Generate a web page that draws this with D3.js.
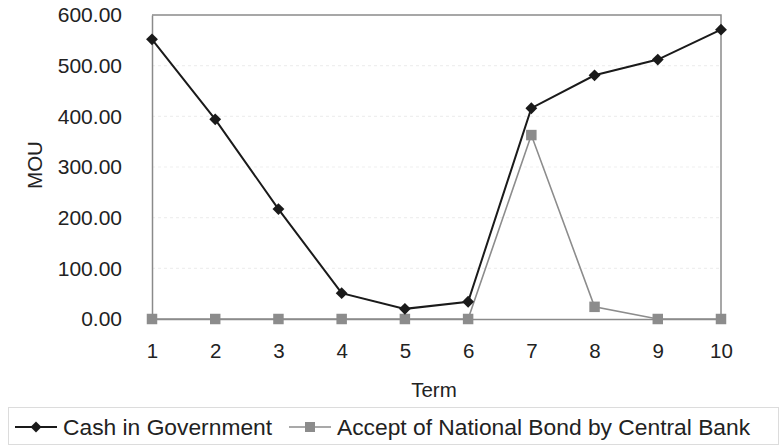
<!DOCTYPE html>
<html>
<head>
<meta charset="utf-8">
<script src="https://cdn.jsdelivr.net/npm/d3@7"></script>
<style>
  html, body { margin: 0; padding: 0; background: #fff; }
  svg { display: block; font-family: "Liberation Sans", Arial, sans-serif; }
</style>
</head>
<body>
<svg id="chart" width="782" height="446"></svg>
<script>
// Terms on the x axis
const terms = [1, 2, 3, 4, 5, 6, 7, 8, 9, 10];
// Series values (MOU)
const cashInGovernment = [552, 394, 217, 51, 20, 34, 416, 481, 512, 571];
const acceptNationalBond = [0, 0, 0, 0, 0, 0, 363, 24, 0, 0];
// Y tick values
const yTicks = [0, 100, 200, 300, 400, 500, 600];
const seriesNames = ["Cash in Government", "Accept of National Bond by Central Bank"];

const svg = d3.select("#chart");
const plot = { left: 152, right: 721, top: 15, bottom: 319 };

const x = d3.scaleLinear().domain([1, 10]).range([plot.left, plot.right]);
const y = d3.scaleLinear().domain([0, 600]).range([plot.bottom, plot.top]);

// faint dotted gridlines
svg.append("g")
  .selectAll("line")
  .data(yTicks.filter(d => d > 0 && d < 600))
  .join("line")
  .attr("x1", plot.left).attr("x2", plot.right)
  .attr("y1", d => y(d)).attr("y2", d => y(d))
  .attr("stroke", "#efefef").attr("stroke-width", 1.2)
  .attr("stroke-dasharray", "3,3");

// plot frame (top and right edges)
svg.append("path")
  .attr("d", `M${plot.left},${plot.top}H${plot.right}V${plot.bottom}`)
  .attr("fill", "none").attr("stroke", "#8a8a8a").attr("stroke-width", 1.5);

// y axis
const yAxis = svg.append("g")
  .attr("transform", `translate(${plot.left},0)`)
  .call(d3.axisLeft(y).tickValues(yTicks).tickFormat(d3.format(".2f")).tickSize(0).tickPadding(30));
yAxis.select(".domain").attr("stroke", "#8a8a8a").attr("stroke-width", 1.5);
yAxis.selectAll("text").attr("font-size", 21).attr("fill", "#222").attr("font-family", "Liberation Sans, Arial, sans-serif");

// x axis
const xAxis = svg.append("g")
  .attr("transform", `translate(0,${plot.bottom})`)
  .call(d3.axisBottom(x).tickValues(terms).tickFormat(d3.format("d")).tickSize(0).tickPadding(24));
xAxis.select(".domain").attr("stroke", "#8a8a8a").attr("stroke-width", 1.5);
xAxis.selectAll("text").attr("font-size", 20.5).attr("fill", "#222").attr("font-family", "Liberation Sans, Arial, sans-serif");

// axis titles
svg.append("text")
  .attr("transform", "translate(42,165) rotate(-90)")
  .attr("text-anchor", "middle")
  .attr("font-size", 20.5).attr("fill", "#222")
  .text("MOU");
svg.append("text")
  .attr("x", 434).attr("y", 397)
  .attr("text-anchor", "middle")
  .attr("font-size", 20.5).attr("fill", "#222")
  .text("Term");

const line = d3.line().x((d, i) => x(terms[i])).y(d => y(d));

// Accept of National Bond series (gray, squares)
svg.append("path")
  .datum(acceptNationalBond)
  .attr("d", line)
  .attr("fill", "none").attr("stroke", "#8c8c8c").attr("stroke-width", 1.6);
svg.append("g")
  .selectAll("path")
  .data(acceptNationalBond)
  .join("path")
  .attr("d", d3.symbol(d3.symbolSquare, 110))
  .attr("transform", (d, i) => `translate(${x(terms[i])},${y(d)})`)
  .attr("fill", "#8c8c8c");

// Cash in Government series (black, diamonds)
svg.append("path")
  .datum(cashInGovernment)
  .attr("d", line)
  .attr("fill", "none").attr("stroke", "#1a1a1a").attr("stroke-width", 2);
svg.append("g")
  .selectAll("path")
  .data(cashInGovernment)
  .join("path")
  .attr("d", d3.symbol(d3.symbolSquare, 70))
  .attr("transform", (d, i) => `translate(${x(terms[i])},${y(d)}) rotate(45)`)
  .attr("fill", "#1a1a1a");

// legend
const legend = svg.append("g");
legend.append("rect")
  .attr("x", 8.5).attr("y", 407.5).attr("width", 770).attr("height", 37)
  .attr("fill", "#fff").attr("stroke", "#dcdcdc").attr("stroke-width", 1);

const ly = 427;
legend.append("line").attr("x1", 15).attr("x2", 57).attr("y1", ly).attr("y2", ly)
  .attr("stroke", "#1a1a1a").attr("stroke-width", 2);
legend.append("path").attr("d", d3.symbol(d3.symbolSquare, 60))
  .attr("transform", `translate(36,${ly}) rotate(45)`).attr("fill", "#1a1a1a");
legend.append("text").attr("x", 63).attr("y", ly + 8)
  .attr("font-size", 22.8).attr("fill", "#222").text(seriesNames[0]);

legend.append("line").attr("x1", 289).attr("x2", 331).attr("y1", ly).attr("y2", ly)
  .attr("stroke", "#8c8c8c").attr("stroke-width", 1.6);
legend.append("path").attr("d", d3.symbol(d3.symbolSquare, 100))
  .attr("transform", `translate(310,${ly})`).attr("fill", "#8c8c8c");
legend.append("text").attr("x", 337).attr("y", ly + 8)
  .attr("font-size", 22.8).attr("fill", "#222").text(seriesNames[1]);
</script>
</body>
</html>
